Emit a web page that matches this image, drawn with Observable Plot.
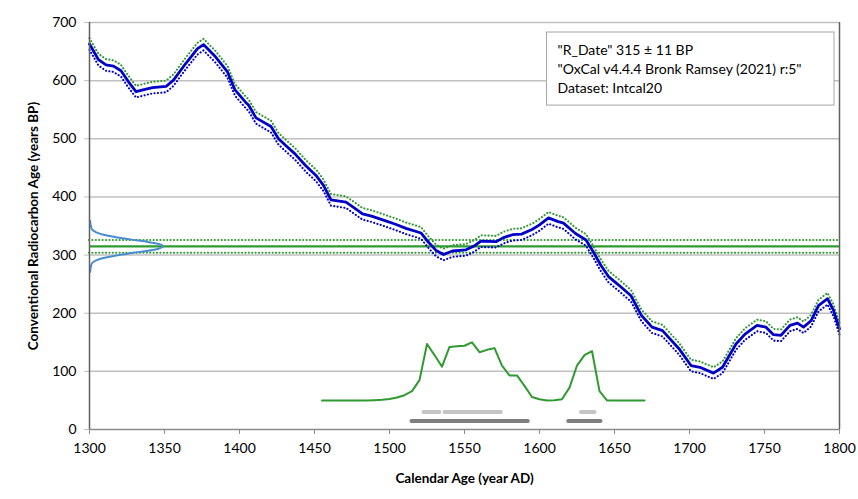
<!DOCTYPE html>
<html><head><meta charset="utf-8">
<script src="https://cdn.jsdelivr.net/npm/d3@7"></script>
<script src="https://cdn.jsdelivr.net/npm/@observablehq/plot@0.6"></script>
<style>body{margin:0;background:#fff}</style>
</head><body><div id="chart"></div>
<script>
// Calibration curve (IntCal20)
const calYears = [1300,1306,1311,1316,1321,1326,1331,1337,1342,1351,1356,1364,1372,1376,1384,1392,1397,1404,1406,1411,1421,1426,1431,1437,1444,1451,1456,1461,1471,1476,1482,1488,1495,1504,1511,1521,1526,1531,1536,1542,1551,1556,1561,1571,1576,1582,1588,1595,1600,1606,1612,1616,1624,1631,1636,1641,1646,1653,1661,1668,1675,1682,1693,1701,1707,1716,1722,1731,1737,1745,1751,1756,1761,1767,1772,1776,1781,1786,1792,1796,1800];
const calMean  = [663,636,627,625,617,598,581,585,588,590,601,629,655,662,641,615,584,563,558,536,521,500,488,474,454,437,420,395,391,382,371,367,361,353,346,338,322,308,301,307,309,315,324,323,330,335,336,344,352,364,358,355,337,326,305,282,263,248,230,196,176,170,139,110,107,97,107,147,164,179,176,163,162,179,183,176,187,213,225,205,173];
const calErr   = [10,10,10,10,10,10,10,10,10,10,10,10,10,10,10,10,10,10,10,10,10,10,10,10,10,10,10,10,10,10,10,10,10,10,10,10,10,10,10,10,10,10,10,10,10,10,10,10,10,10,10,10,10,10,10,10,10,10,10,10,10,10,10,10,10,10,10,10,10,10,10,10,10,10,10,10,10,10,10,10,10];

// Radiocarbon date
const dateAge = 315;
const dateErr = 11;
const likeAges    = [271,275,279,283,287,291,295,299,303,307,311,315,319,323,327,331,335,339,343,347,351,355,359];
const likeDensity = [0.4,0.6,0.8,1.2,2,4.5,9.3,17,27,38,46,49,46,38,27,17,9.3,4.5,2,1.2,0.8,0.6,0.4];

// Calibrated distribution
const postYears  = [1455,1460,1465,1470,1475,1480,1485,1490,1495,1500,1505,1510,1515,1520,1525,1530,1535,1540,1545,1550,1555,1560,1565,1570,1575,1580,1585,1590,1595,1600,1605,1610,1615,1620,1625,1630,1635,1640,1645,1650,1655,1660,1665,1670];
const postValues = [50,50,50,50,50,50,50,50.5,51,52.5,55,59,66,85,147,128,108,142,143,144,150,133,137,140,110,93,93,75,56,52,50,50.5,52,72,110,128,135,66,50,50,50,50,50,50];

// Ranges (68.2% and 95.4%)
const range68 = [[1523,1533.5],[1537,1574.5],[1628,1637]];
const range95 = [[1515,1592.5],[1619.5,1641]];

const legendLines = ['"R_Date" 315 ± 11 BP', '"OxCal v4.4.4 Bronk Ramsey (2021) r:5"', 'Dataset: Intcal20'];
const xTicks = [1300,1350,1400,1450,1500,1550,1600,1650,1700,1750,1800];
const yTicks = [0,100,200,300,400,500,600,700];
const xTitle = "Calendar Age (year AD)";
const yTitle = "Conventional Radiocarbon Age (years BP)";

const cal = calYears.map((year, i) => ({year, mean: calMean[i], hi: calMean[i] + calErr[i], lo: calMean[i] - calErr[i]}));
const like = likeAges.map((age, i) => ({age, d: likeDensity[i]}));
const post = postYears.map((year, i) => ({year, v: postValues[i]}));

const GREEN = "#2f9a30", BLUE = "#0000c8", LBLUE = "#4a8cd0";
const DOT = {strokeWidth: 2.1, strokeDasharray: "0.1,3.3", strokeLinecap: "round"};

const plot = Plot.plot({
  width: 858, height: 499,
  marginLeft: 89, marginRight: 19, marginTop: 22, marginBottom: 70,
  x: {domain: [1300, 1800]},
  y: {domain: [0, 700]},
  style: {fontFamily: "Lato, 'Open Sans', sans-serif", fontSize: "14px", color: "#000", background: "#fff", overflow: "visible"},
  marks: [
    Plot.ruleY(yTicks.filter(d => d > 0), {stroke: "#c0c0c0", strokeWidth: 1.5}),
    Plot.axisY({ticks: yTicks, tickSize: 5, tickPadding: 8, stroke: "#c0c0c0", label: null, fontSize: 14, tickFormat: "d"}),
    Plot.axisX({ticks: xTicks, tickSize: 5, tickPadding: 9, stroke: "#8c8c8c", label: null, fontSize: 14, tickFormat: "d"}),
    Plot.ruleY(range68, {x1: d => d[0], x2: d => d[1], y: 30, stroke: "#c4c4c4", strokeWidth: 4, strokeLinecap: "round"}),
    Plot.ruleY(range95, {x1: d => d[0], x2: d => d[1], y: 14.5, stroke: "#7f7f7f", strokeWidth: 4, strokeLinecap: "round"}),
    Plot.line(post, {x: "year", y: "v", stroke: GREEN, strokeWidth: 2}),
    Plot.ruleY([dateAge - dateErr, dateAge + dateErr], {stroke: GREEN, ...DOT}),
    Plot.ruleY([dateAge], {stroke: GREEN, strokeWidth: 2.2}),
    Plot.line(like, {x: d => 1300 + d.d, y: "age", stroke: LBLUE, strokeWidth: 2, curve: "monotone-y"}),
    Plot.line(cal, {x: "year", y: "hi", stroke: GREEN, ...DOT}),
    Plot.line(cal, {x: "year", y: "lo", stroke: BLUE, ...DOT}),
    Plot.line(cal, {x: "year", y: "mean", stroke: BLUE, strokeWidth: 2.8}),
    Plot.ruleX([1300], {stroke: "#606060", strokeWidth: 1.5}),
    Plot.ruleX([1800], {stroke: "#606060", strokeWidth: 1.5}),
    Plot.ruleY([0], {stroke: "#8c8c8c", strokeWidth: 1.5}),
    Plot.text([xTitle], {frameAnchor: "bottom", dy: 53, fontWeight: "bold", fontSize: 13.5, fill: "#000"}),
    Plot.text([yTitle], {frameAnchor: "left", rotate: -90, dx: -56, textAnchor: "middle", fontWeight: "bold", fontSize: 13.5, fill: "#000"}),
    Plot.text([legendLines.join("\n")], {frameAnchor: "top-left", dx: 468, dy: 19, lineAnchor: "top", textAnchor: "start", lineHeight: 1.36, fontSize: 14, fill: "#000"})
  ]
});
document.getElementById("chart").appendChild(plot);

// white legend box behind the legend text (in root SVG coordinates)
const t = Array.from(plot.querySelectorAll("text")).find(el => el.textContent.includes("R_Date"));
if (t) {
  const sr = plot.getBoundingClientRect();
  const tr = t.getBoundingClientRect();
  const left = tr.left - sr.left - 11, top = 32, right = 858 - 19 - 5, bottom = tr.bottom - sr.top + 9;
  const r = document.createElementNS("http://www.w3.org/2000/svg", "rect");
  r.setAttribute("x", left); r.setAttribute("y", top);
  r.setAttribute("width", right - left); r.setAttribute("height", bottom - top);
  r.setAttribute("fill", "#fff"); r.setAttribute("stroke", "#a6a6a6"); r.setAttribute("stroke-width", 1);
  let g = t;
  while (g.parentNode && g.parentNode !== plot) g = g.parentNode;
  plot.insertBefore(r, g);
}
</script>
</body></html>
